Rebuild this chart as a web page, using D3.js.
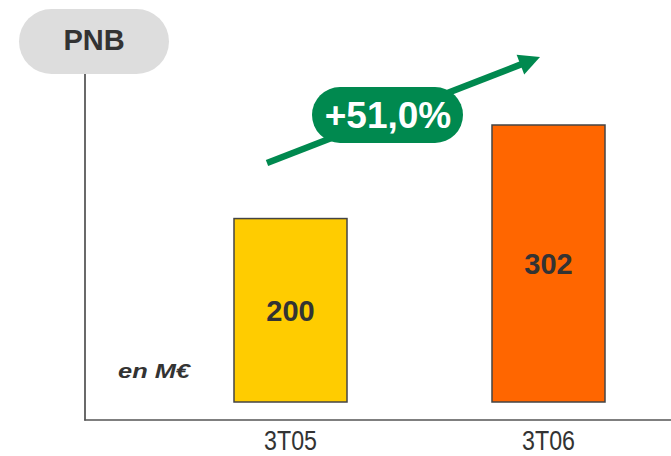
<!DOCTYPE html>
<html><head><meta charset="utf-8">
<script src="https://cdn.jsdelivr.net/npm/d3@7"></script>
<style>body{margin:0;background:#fff}svg{display:block}</style>
</head><body>
<svg id="c" width="671" height="456"></svg>
<script>
const categories = ["3T05", "3T06"];
const values = [200, 302];
const barColors = ["#FFCC00", "#FF6600"];
const title = "PNB";
const unitLabel = "en M€";
const growthLabel = "+51,0%";

const svg = d3.select("#c");
const x = d3.scaleBand().domain(categories).range([161.5, 677.5]).paddingInner(0.562).paddingOuter(0.281);
const y = d3.scaleLinear().domain([0, 302]).range([402, 125]);

// axes lines
svg.append("line").attr("x1", 85).attr("x2", 85).attr("y1", 74).attr("y2", 420.5)
  .attr("stroke", "#444").attr("stroke-width", 1.6);
svg.append("line").attr("x1", 84.2).attr("x2", 671).attr("y1", 420).attr("y2", 420)
  .attr("stroke", "#555").attr("stroke-width", 1.6);

// title pill
svg.append("rect").attr("x", 19).attr("y", 9).attr("width", 150).attr("height", 65).attr("rx", 32.5)
  .attr("fill", "#DDDDDD");
svg.append("text").attr("x", 94).attr("y", 50).attr("text-anchor", "middle")
  .attr("font-family", "Liberation Sans, Arial, sans-serif").attr("font-weight", "bold")
  .attr("font-size", 29).attr("fill", "#333").text(title);

// bars
svg.selectAll("rect.bar").data(values).join("rect").attr("class", "bar")
  .attr("x", (d, i) => x(categories[i])).attr("width", x.bandwidth())
  .attr("y", d => y(d)).attr("height", d => y(0) - y(d))
  .attr("fill", (d, i) => barColors[i]).attr("stroke", "#444").attr("stroke-width", 1.5);

svg.selectAll("text.val").data(values).join("text").attr("class", "val")
  .attr("x", (d, i) => x(categories[i]) + x.bandwidth() / 2)
  .attr("y", d => (y(d) + y(0)) / 2).attr("dy", "0.36em").attr("text-anchor", "middle")
  .attr("font-family", "Liberation Sans, Arial, sans-serif").attr("font-weight", "bold")
  .attr("font-size", 29).attr("fill", "#333").text(d => d);

// category axis (condensed labels)
const xAxis = d3.axisBottom(x).tickSize(0).tickPadding(0);
const gx = svg.append("g").attr("transform", "translate(0,450)").call(xAxis);
gx.select(".domain").remove();
gx.selectAll("text").attr("y", 0).attr("dy", 0).attr("text-anchor", "middle")
  .attr("transform", "scale(0.86,1)")
  .attr("font-family", "Liberation Sans, Arial, sans-serif")
  .attr("font-size", 27).attr("fill", "#333");

// unit label
svg.append("text").attr("x", 118).attr("y", 378).attr("textLength", 72).attr("lengthAdjust", "spacingAndGlyphs")
  .attr("font-family", "Liberation Sans, Arial, sans-serif").attr("font-weight", "bold").attr("font-style", "italic")
  .attr("font-size", 20).attr("fill", "#333").text(unitLabel);

// growth arrow
const green = "#00894F";
const p0 = [267, 163], tip = [540, 57];
const dx = tip[0] - p0[0], dy = tip[1] - p0[1], L = Math.hypot(dx, dy);
const u = [dx / L, dy / L], n = [-u[1], u[0]];
const hl = 21, hw = 10.5;
const base = [tip[0] - hl * u[0], tip[1] - hl * u[1]];
svg.append("line").attr("x1", p0[0]).attr("y1", p0[1]).attr("x2", base[0] + 2 * u[0]).attr("y2", base[1] + 2 * u[1])
  .attr("stroke", green).attr("stroke-width", 6.5);
svg.append("path").attr("d", d3.line()([
  tip, [base[0] + hw * n[0], base[1] + hw * n[1]], [base[0] - hw * n[0], base[1] - hw * n[1]]
]) + "Z").attr("fill", green);

svg.append("rect").attr("x", 312).attr("y", 87).attr("width", 151).attr("height", 56).attr("rx", 28)
  .attr("fill", green);
svg.append("text").attr("x", 388).attr("y", 115).attr("dy", "0.36em").attr("text-anchor", "middle")
  .attr("font-family", "Liberation Sans, Arial, sans-serif").attr("font-weight", "bold")
  .attr("font-size", 37).attr("fill", "#fff").text(growthLabel);
</script>
</body></html>
